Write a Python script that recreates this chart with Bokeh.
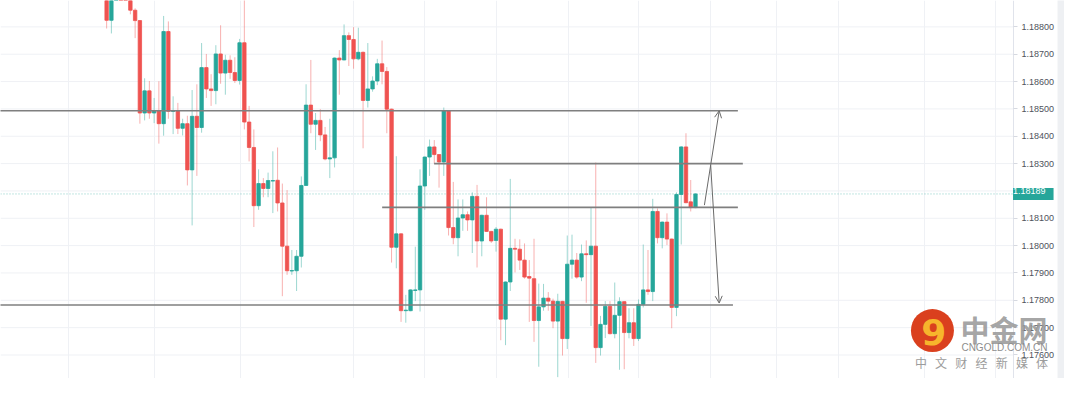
from bokeh.plotting import figure
from bokeh.models import (ColumnDataSource, Range1d, FixedTicker, PrintfTickFormatter,
                          Grid, Label, Arrow, OpenHead, LinearAxis)
from bokeh.embed import file_html
from bokeh.resources import INLINE
from bokeh.core.properties import value

# ---------------- data ----------------
opens = [1.18914, 1.18824, 1.18925, 1.18974, 1.18949, 1.18914, 1.18861, 1.18823, 1.18485, 1.18566,
         1.18485, 1.18493, 1.18446, 1.18783, 1.18491, 1.18493, 1.18429, 1.18446, 1.18277, 1.18473,
         1.18432, 1.18651, 1.18573, 1.18567, 1.18701, 1.18631, 1.18678, 1.18633, 1.18604, 1.18742,
         1.18452, 1.18359, 1.18146, 1.18227, 1.18209, 1.18236, 1.18239, 1.18156, 1.17998, 1.17907,
         1.17908, 1.17961, 1.18220, 1.18514, 1.18444, 1.18458, 1.18405, 1.18317, 1.18321, 1.18686,
         1.18679, 1.18768, 1.18754, 1.18683, 1.18707, 1.18531, 1.18573, 1.18602, 1.18665, 1.18637,
         1.18499, 1.17994, 1.18043, 1.17762, 1.17762, 1.17836, 1.17838, 1.18218, 1.18324, 1.18361,
         1.18333, 1.18306, 1.18493, 1.18066, 1.18029, 1.18101, 1.18113, 1.18094, 1.18180, 1.18017,
         1.18111, 1.18052, 1.18019, 1.18060, 1.17731, 1.17867, 1.17990, 1.17987, 1.17947, 1.17887,
         1.17879, 1.17726, 1.17776, 1.17808, 1.17797, 1.17724, 1.17796, 1.17660, 1.17932, 1.17947,
         1.17885, 1.17970, 1.17967, 1.17998, 1.17627, 1.17712, 1.17778, 1.17678, 1.17745, 1.17795,
         1.17682, 1.17718, 1.17660, 1.17785, 1.17838, 1.17832, 1.18125, 1.18029, 1.18086, 1.18024,
         1.17774, 1.18187, 1.18361, 1.18160, 1.18139]
highs = [1.18939, 1.18949, 1.19002, 1.18995, 1.18967, 1.18925, 1.18868, 1.18825, 1.18612, 1.18602,
         1.18540, 1.18601, 1.18840, 1.18820, 1.18546, 1.18522, 1.18464, 1.18475, 1.18569, 1.18590,
         1.18741, 1.18701, 1.18627, 1.18733, 1.18806, 1.18698, 1.18696, 1.18689, 1.18756, 1.18932,
         1.18511, 1.18425, 1.18279, 1.18247, 1.18267, 1.18345, 1.18359, 1.18227, 1.18203, 1.17984,
         1.17984, 1.18253, 1.18590, 1.18679, 1.18485, 1.18499, 1.18434, 1.18464, 1.18688, 1.18715,
         1.18809, 1.18780, 1.18799, 1.18797, 1.18710, 1.18741, 1.18619, 1.18683, 1.18750, 1.18653,
         1.18501, 1.18327, 1.18045, 1.17820, 1.17840, 1.17996, 1.18279, 1.18326, 1.18388, 1.18386,
         1.18335, 1.18505, 1.18495, 1.18233, 1.18169, 1.18169, 1.18125, 1.18195, 1.18222, 1.18113,
         1.18177, 1.18054, 1.18068, 1.18062, 1.17869, 1.18244, 1.18025, 1.18023, 1.18008, 1.17947,
         1.18025, 1.17861, 1.17860, 1.17830, 1.17806, 1.17824, 1.17798, 1.18037, 1.18040, 1.17973,
         1.18004, 1.18019, 1.18139, 1.18304, 1.17743, 1.17797, 1.17797, 1.17865, 1.17811, 1.17797,
         1.17771, 1.17771, 1.17803, 1.18004, 1.17984, 1.18171, 1.18136, 1.18088, 1.18118, 1.18026,
         1.18195, 1.18364, 1.18411, 1.18240, 1.18192]
lows = [1.18794, 1.18776, 1.18907, 1.18932, 1.18904, 1.18846, 1.18759, 1.18446, 1.18458, 1.18464,
        1.18448, 1.18373, 1.18402, 1.18464, 1.18408, 1.18408, 1.18403, 1.18220, 1.18074, 1.18255,
        1.18413, 1.18540, 1.18511, 1.18517, 1.18592, 1.18552, 1.18610, 1.18595, 1.18589, 1.18425,
        1.18308, 1.18068, 1.18131, 1.18177, 1.18177, 1.18119, 1.18125, 1.17815, 1.17893, 1.17893,
        1.17834, 1.17920, 1.18218, 1.18411, 1.18350, 1.18382, 1.18312, 1.18247, 1.18286, 1.18552,
        1.18678, 1.18657, 1.18647, 1.18678, 1.18356, 1.18505, 1.18563, 1.18587, 1.18590, 1.18411,
        1.17938, 1.17917, 1.17721, 1.17718, 1.17760, 1.17797, 1.17759, 1.18131, 1.18255, 1.18300,
        1.18212, 1.18255, 1.18037, 1.18005, 1.17961, 1.18054, 1.18054, 1.17973, 1.17920, 1.17961,
        1.18050, 1.18010, 1.17978, 1.17654, 1.17636, 1.17834, 1.17902, 1.17911, 1.17879, 1.17721,
        1.17648, 1.17557, 1.17762, 1.17762, 1.17698, 1.17519, 1.17598, 1.17622, 1.17879, 1.17879,
        1.17870, 1.17791, 1.17706, 1.17571, 1.17598, 1.17662, 1.17675, 1.17661, 1.17546, 1.17548,
        1.17661, 1.17633, 1.17651, 1.17774, 1.17820, 1.17797, 1.18008, 1.17990, 1.18002, 1.17698,
        1.17742, 1.18004, 1.18155, 1.18125, 1.18137]
closes = [1.18824, 1.18925, 1.18974, 1.18949, 1.18914, 1.18861, 1.18823, 1.18485, 1.18566, 1.18485,
          1.18493, 1.18446, 1.18783, 1.18491, 1.18493, 1.18429, 1.18446, 1.18277, 1.18473, 1.18432,
          1.18651, 1.18573, 1.18567, 1.18701, 1.18631, 1.18678, 1.18633, 1.18604, 1.18742, 1.18452,
          1.18359, 1.18146, 1.18227, 1.18209, 1.18238, 1.18238, 1.18156, 1.17998, 1.17908, 1.17909,
          1.17961, 1.18220, 1.18514, 1.18444, 1.18458, 1.18405, 1.18317, 1.18321, 1.18686, 1.18679,
          1.18768, 1.18754, 1.18683, 1.18707, 1.18531, 1.18573, 1.18602, 1.18665, 1.18637, 1.18499,
          1.17994, 1.18043, 1.17762, 1.17764, 1.17838, 1.17838, 1.18218, 1.18324, 1.18361, 1.18333,
          1.18306, 1.18493, 1.18066, 1.18029, 1.18101, 1.18113, 1.18094, 1.18180, 1.18017, 1.18111,
          1.18052, 1.18017, 1.18060, 1.17731, 1.17867, 1.17990, 1.17987, 1.17947, 1.17885, 1.17881,
          1.17726, 1.17776, 1.17808, 1.17797, 1.17724, 1.17796, 1.17660, 1.17932, 1.17947, 1.17885,
          1.17970, 1.17967, 1.17998, 1.17627, 1.17712, 1.17778, 1.17678, 1.17745, 1.17795, 1.17682,
          1.17718, 1.17660, 1.17785, 1.17838, 1.17832, 1.18125, 1.18029, 1.18086, 1.18024, 1.17774,
          1.18187, 1.18361, 1.18157, 1.18139, 1.18189]

price_ticks = [1.176, 1.177, 1.178, 1.179, 1.180, 1.181, 1.183, 1.184, 1.185, 1.186, 1.187, 1.188, 1.189]
grid_prices = [1.176, 1.177, 1.178, 1.179, 1.180, 1.181, 1.182, 1.183, 1.184, 1.185, 1.186, 1.187, 1.188, 1.189]
time_grid = [-7.97, 10.02, 28.14, 52.0, 67.03, 82.09, 97.18, 111.97, 127.2, 141.1, 154.2, 172.2, 187.1]
last_label = "1.18189"

# drawn support / resistance levels
level_prices = [1.18493, 1.18300, 1.18140, 1.17783]
level_x0 = [-23.0, 68.96, 58.02, -23.0]
level_x1 = [132.93, 133.97, 132.93, 131.89]

# drawn arrows
arrow_x0 = [125.88, 127.20]
arrow_y0 = [1.18148, 1.18294]
arrow_x1 = [128.99, 128.99]
arrow_y1 = [1.18493, 1.17790]

# ---------------- figure ----------------
X0, X1 = -22.35, 201.71      # full window width (chart + price scale)
AX = 190.97                  # where the price scale starts
EDGE = 200.24                # light strip at the far right
Y0, Y1 = 1.17514, 1.188965

p = figure(width=1064, height=378, x_range=Range1d(X0, X1), y_range=Range1d(Y0, Y1),
           output_backend="svg", toolbar_location=None,
           x_axis_location=None, y_axis_location=None, min_border=0,
           background_fill_color="white", border_fill_color="white")
p.outline_line_color = None
p.grid.visible = False

p.quad(left=[EDGE], right=[X1 + 1], bottom=[Y0 - 0.001], top=[Y1 + 0.001],
       fill_color="#eef0f3", line_color=None)

GRID = "#eff1f5"
p.segment(x0=[X0] * len(grid_prices), y0=grid_prices, x1=[AX] * len(grid_prices), y1=grid_prices,
          line_color=GRID, line_width=1)
p.add_layout(Grid(dimension=0, ticker=FixedTicker(ticks=time_grid), grid_line_color=GRID, grid_line_width=1))

yax = LinearAxis(fixed_location=AX, ticker=FixedTicker(ticks=price_ticks),
                 formatter=PrintfTickFormatter(format="%.5f"))
yax.axis_line_color = "#e0e3eb"
yax.major_tick_line_color = "#d6d9e0"
yax.major_tick_out = 4
yax.major_tick_in = 0
yax.minor_tick_line_color = None
yax.major_label_text_font = "Liberation Sans"
yax.major_label_text_font_size = "9px"
yax.major_label_text_color = "#4e525c"
yax.major_label_standoff = 4
p.add_layout(yax, "right")

TEAL = "#26a69a"
RED = "#ef5350"
n = len(opens)
src = ColumnDataSource(dict(
    x=list(range(n)), o=opens, h=highs, l=lows, c=closes,
    top=[max(a, b) for a, b in zip(opens, closes)],
    bottom=[min(a, b) for a, b in zip(opens, closes)],
    color=[TEAL if c > o else RED for o, c in zip(opens, closes)],
))

p.segment(x0=[X0], y0=[closes[-1]], x1=[AX], y1=[closes[-1]], line_color=TEAL,
          line_alpha=0.55, line_width=1, line_dash="1 2")

p.segment(x0="x", y0="l", x1="x", y1="h", line_color="color", line_alpha=0.45, line_width=1, source=src)
p.vbar(x="x", width=0.72, top="top", bottom="bottom", fill_color="color",
       line_color="color", line_width=0.8, source=src)

p.segment(x0=level_x0, y0=level_prices, x1=level_x1, y1=level_prices,
          line_color="#7f7f7f", line_width=1.6)

for xs, ys, xe, ye in zip(arrow_x0, arrow_y0, arrow_x1, arrow_y1):
    p.add_layout(Arrow(end=OpenHead(size=7, line_color="#6a6a6a", line_width=1),
                       x_start=xs, y_start=ys, x_end=xe, y_end=ye,
                       line_color="#6a6a6a", line_width=1))

p.add_layout(Label(x=AX - 0.1, y=closes[-1], text=last_label, text_color="white",
                   text_font="Liberation Sans", text_font_size="9px",
                   text_align="left", text_baseline="middle",
                   background_fill_color=TEAL, padding=(0, 8, 0, 6)))

# watermark
logo_x, logo_y = 173.9, 1.176895
p.scatter(x=[logo_x], y=[logo_y], size=43, fill_color="#da401e", line_color=None)
p.text(x=[logo_x + 0.3], y=[logo_y - 0.00005], text=["9"], text_font=value("DejaVu Sans"),
       text_font_style="bold", text_font_size="36px", text_color="#f7b52c",
       text_align="center", text_baseline="middle")
p.add_layout(Label(x=179.8, y=1.176965, text="中金网", text_font="Noto Sans CJK SC",
                   text_font_style="bold", text_font_size="29px", text_color="#9a9a9a",
                   text_alpha=0.9, text_align="left", text_baseline="middle"))
p.add_layout(Label(x=180.0, y=1.176263, text="CNGOLD.COM.CN", text_font="Liberation Sans",
                   text_font_size="10px", text_color="#8d8d8d",
                   text_align="left", text_baseline="middle"))
for i, ch in enumerate("中文财经新媒体"):
    p.add_layout(Label(x=171.47 + i * 4.254, y=1.175737, text=ch,
                       text_font="Noto Sans CJK SC", text_font_size="12px",
                       text_color="#9c9c9c", text_align="center", text_baseline="middle"))

open("out.html", "w").write(file_html(p, INLINE))
